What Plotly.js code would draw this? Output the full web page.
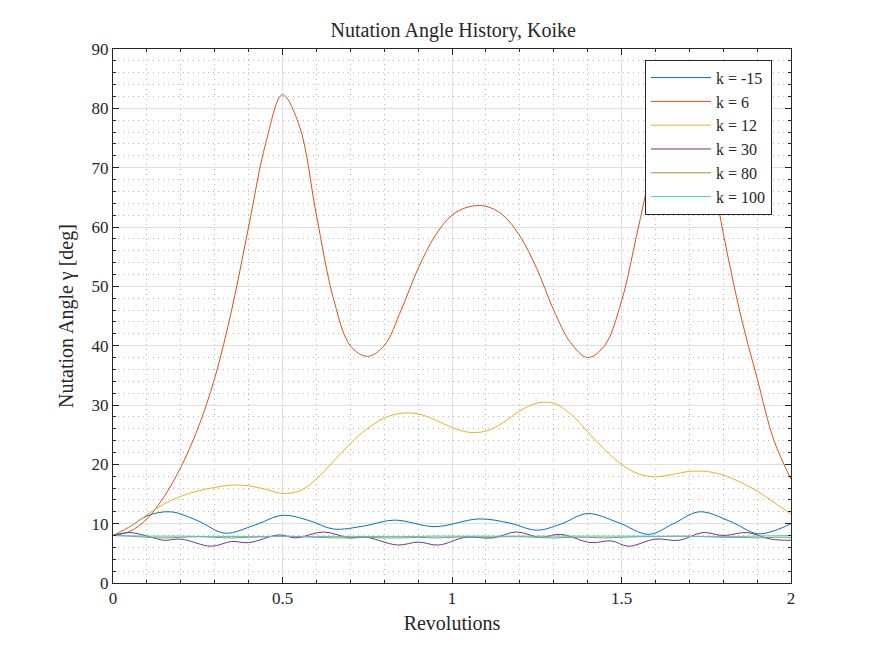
<!DOCTYPE html>
<html>
<head>
<meta charset="utf-8">
<script src="https://cdn.plot.ly/plotly-3.0.1.min.js"></script>
<style>body{margin:0;background:#fff}</style>
</head>
<body>
<div id="plot" style="width:875px;height:656px"></div>
<script>
// sampled every 0.05 revolutions
const revs = [];
for (let i = 0; i <= 40; i++) revs.push(i * 0.05);

const kM15x = [0,0.05,0.1,0.17,0.25,0.33,0.42,0.5,0.58,0.65,0.74,0.83,0.95,1.08,1.17,1.25,1.32,1.4,1.49,1.58,
  1.65,1.73,1.82,1.9,1.95,2];
const kM15 = [8,9.5,11.3,12,10.5,8.4,9.8,11.4,10.5,9.1,9.6,10.6,9.5,10.8,10.1,8.9,9.9,11.7,10.2,8.2,
  9.9,12,10.4,8.3,8.8,10];
const k6 = [8,8.7,10.8,14.5,19.5,26,34.5,46,60,74,82.3,77,62,48,40,38.2,40,46,53,58.5,
  62,63.4,63.5,62,58.5,53,46,40.5,38,40,47.5,60,72.5,80.5,81.8,74,59,45.5,34.5,24,17.5];
const k12 = [8,9.5,11.5,13.3,14.6,15.5,16.1,16.5,16.4,15.8,15.1,15.5,17.5,20.5,23.5,26,27.8,28.6,28.5,27.5,
  26.2,25.4,25.6,27,29,30.3,30.3,28.5,25.5,22.5,20,18.4,17.9,18.3,18.8,18.8,18.2,17,15.5,13.6,11.6];
const k30x = [0,0.05,0.12,0.15,0.2,0.29,0.35,0.4,0.49,0.54,0.62,0.7,0.74,0.84,0.9,0.96,1.04,1.12,1.19,1.26,
  1.32,1.41,1.47,1.52,1.6,1.67,1.74,1.8,1.87,1.94,2];
const k30 = [8,8.5,7.6,7.2,7.4,6.2,7,6.8,8.1,7.6,8.6,7.6,7.8,6.4,6.9,6.4,7.7,7.6,8.6,7.7,
  8.2,6.8,7.1,6.2,7.4,7.2,8.5,8,8.5,7.4,7.2];
const k80 = [8,7.9,7.7,7.6,7.7,7.8,7.7,7.6,7.7,7.8,7.9,7.8,7.7,7.6,7.6,7.7,7.6,7.6,7.7,7.6,
  7.7,7.8,7.7,7.8,7.8,7.7,7.6,7.7,7.7,7.6,7.7,7.8,7.8,7.9,7.9,7.8,7.7,7.7,7.6,7.7,7.7];
const k100 = [8,7.95,7.9,7.9,7.9,7.85,7.85,7.85,7.85,7.85,7.85,7.85,7.85,7.85,7.85,7.85,7.85,7.85,7.85,7.9,
  7.9,7.9,7.9,7.9,7.9,7.9,7.9,7.9,7.9,7.9,7.9,7.9,7.9,7.85,7.85,7.85,7.85,7.85,7.9,7.95,8];

const names = ['k = -15','k = 6','k = 12','k = 30','k = 80','k = 100'];
const colors = ['#0072BD','#D95319','#EDB120','#7E2F8E','#77AC30','#4DBEEE'];
const xs = [kM15x, revs, revs, k30x, revs, revs];
const ys = [kM15, k6, k12, k30, k80, k100];

const traces = names.map((n, i) => ({
  x: xs[i], y: ys[i], name: n, type: 'scatter', mode: 'lines',
  line: {color: colors[i], width: 1, shape: 'spline'}
}));

const ax = {
  showline: true, mirror: 'ticks', linecolor: '#262626', linewidth: 1,
  ticks: 'inside', ticklen: 6, tickcolor: '#262626',
  showgrid: true, gridcolor: '#e0e0e0', zeroline: false,
  tickfont: {size: 17, color: '#262626'}
};
const minorGrid = {showgrid: true, gridcolor: '#b8b8b8', griddash: '1px,4px', ticks: 'inside', ticklen: 3};

const layout = {
  font: {family: 'Liberation Serif, serif', color: '#262626'},
  margin: {l: 113, r: 84, t: 49, b: 73},
  paper_bgcolor: '#fff', plot_bgcolor: '#fff',
  title: {text: 'Nutation Angle History, Koike', font: {size: 20}, x: 0.518, y: 0.965},
  xaxis: Object.assign({}, ax, {range: [0, 2], dtick: 0.5,
    minor: Object.assign({dtick: 0.1}, minorGrid),
    title: {text: 'Revolutions', font: {size: 20}, standoff: 8}}),
  yaxis: Object.assign({}, ax, {range: [0, 90], dtick: 10,
    minor: Object.assign({dtick: 2}, minorGrid),
    title: {text: 'Nutation Angle γ [deg]', font: {size: 20}, standoff: 12}}),
  showlegend: true,
  legend: {x: 0.972, y: 0.98, xanchor: 'right', yanchor: 'top', bgcolor: '#fff',
    bordercolor: '#262626', borderwidth: 1, font: {size: 16}, tracegroupgap: 0, itemwidth: 60}
};

Plotly.newPlot('plot', traces, layout, {displayModeBar: false});
</script>
</body>
</html>
